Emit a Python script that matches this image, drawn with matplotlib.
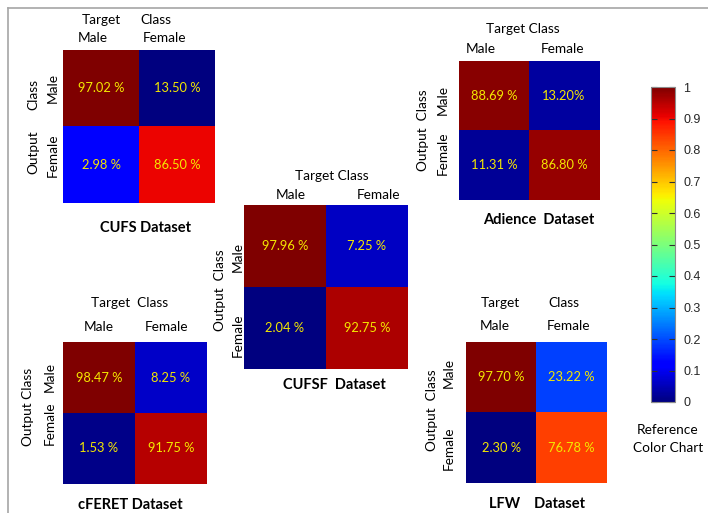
import matplotlib
matplotlib.use("Agg")
import matplotlib.pyplot as plt
import numpy as np
from matplotlib.colors import Normalize
from matplotlib.colorbar import ColorbarBase

# ---------------- data ----------------
classes = ["Male", "Female"]
titles = ["CUFS Dataset", "CUFSF  Dataset", "Adience  Dataset", "cFERET Dataset", "LFW    Dataset"]
# cell text (row = output class, col = target class)
cufs_text = [["97.02 %", "13.50 %"], ["2.98 %", "86.50 %"]]
cufsf_text = [["97.96 %", "7.25 %"], ["2.04 %", "92.75 %"]]
adience_text = [["88.69 %", "13.20%"], ["11.31 %", "86.80 %"]]
cferet_text = [["98.47 %", "8.25 %"], ["1.53 %", "91.75 %"]]
lfw_text = [["97.70 %", "23.22 %"], ["2.30 %", "76.78 %"]]
# colour level of each cell on the reference colour chart
cufs_shade = [[1.00, 0.00], [0.12, 0.905]]
cufsf_shade = [[1.00, 0.06], [0.00, 0.96]]
adience_shade = [[0.99, 0.03], [0.02, 0.98]]
cferet_shade = [[1.00, 0.065], [0.01, 0.95]]
lfw_shade = [[1.00, 0.19], [0.00, 0.84]]
cbar_ticks = [0, 0.1, 0.2, 0.3, 0.4, 0.5, 0.6, 0.7, 0.8, 0.9, 1]
cbar_labels = ["0", "0.1", "0.2", "0.3", "0.4", "0.5", "0.6", "0.7", "0.8", "0.9", "1"]

# ---------------- layout ----------------
W, H = 708, 513
fig = plt.figure(figsize=(W / 100, H / 100), dpi=100)
FONT = "Lato"
FS = 9.8
VFS = 9.3
TFS = 10.5


def fx(x):
    return x / W


def fy(y):
    return 1 - y / H


def T(x, y, s, rot=0, size=FS, weight="normal", color="black", fam=FONT):
    fig.text(fx(x), fy(y), s, rotation=rot, ha="center", va="center",
             fontsize=size, fontweight=weight, color=color, family=fam)


def panel(box, shade, text):
    x0, y0, x1, y1 = box
    ax = fig.add_axes([fx(x0), fy(y1), fx(x1 - x0), (y1 - y0) / H])
    ax.imshow(np.array(shade), cmap="jet", vmin=0, vmax=1, aspect="auto",
              interpolation="nearest")
    for i in range(2):
        for j in range(2):
            ax.text(j, i, text[i][j], ha="center", va="center", color="#f4e800",
                    fontsize=VFS, family=FONT)
    ax.set_xticks([])
    ax.set_yticks([])
    for s in ax.spines.values():
        s.set_visible(False)
    return ax


# border lines
fig.add_artist(plt.Line2D([fx(8), fx(708)], [fy(8), fy(8)], color="#a6a6a6", lw=1.2))
fig.add_artist(plt.Line2D([fx(8), fx(8)], [fy(8), fy(513)], color="#a6a6a6", lw=1.2))

# CUFS
panel((63, 50, 215, 203), cufs_shade, cufs_text)
T(101, 20, "Target"); T(156, 20, "Class")
T(93, 38, classes[0]); T(164, 38, classes[1])
T(33, 95, "Class", rot=90); T(33, 152, "Output", rot=90)
T(53, 88, classes[0], rot=90); T(53, 155, classes[1], rot=90)
T(145, 228, titles[0], size=TFS, weight="bold")

# CUFSF
panel((244, 205, 408, 369), cufsf_shade, cufsf_text)
T(332, 176, "Target Class")
T(291, 195, classes[0]); T(378, 195, classes[1])
T(220, 290, "Output  Class", rot=90)
T(238, 257, classes[0], rot=90); T(238, 335, classes[1], rot=90)
T(334, 385, titles[1], size=TFS, weight="bold")

# Adience
panel((459, 61, 599, 200), adience_shade, adience_text)
T(523, 29, "Target Class")
T(481, 49, classes[0]); T(562, 49, classes[1])
T(423, 130, "Output  Class", rot=90)
T(443, 100, classes[0], rot=90); T(443, 153, classes[1], rot=90)
T(539, 220, titles[2], size=TFS, weight="bold")

# cFERET
panel((63, 342, 207, 484), cferet_shade, cferet_text)
T(130, 303, "Target  Class")
T(99, 327, classes[0]); T(167, 327, classes[1])
T(28, 407, "Output Class", rot=90)
T(50, 377, classes[0], rot=90); T(50, 423, classes[1], rot=90)
T(130, 505, titles[3], size=TFS, weight="bold")

# LFW
panel((466, 342, 607, 483), lfw_shade, lfw_text)
T(500, 303, "Target"); T(564, 303, "Class")
T(495, 326, classes[0]); T(568, 326, classes[1])
T(432, 410, "Output  Class", rot=90)
T(449, 373, classes[0], rot=90); T(449, 448, classes[1], rot=90)
T(537, 504, titles[4], size=TFS, weight="bold")

# colour bar
cax = fig.add_axes([fx(651), fy(402), fx(675 - 651), (402 - 87) / H])
cb = ColorbarBase(cax, cmap=plt.get_cmap("jet"), norm=Normalize(0, 1),
                  ticks=cbar_ticks)
cb.set_ticklabels(cbar_labels)
cb.outline.set_edgecolor("#8c8c8c")
cb.outline.set_linewidth(0.8)
cax.tick_params(axis="y", direction="in", length=4, width=0.8, color="#303030",
                left=True, right=True, labelsize=9, labelcolor="#262626", pad=6)
for lab in cax.get_yticklabels():
    lab.set_family("Liberation Sans")
T(668, 430, "Reference")
T(668, 448, "Color Chart")

fig.savefig("out.png", dpi=100)
